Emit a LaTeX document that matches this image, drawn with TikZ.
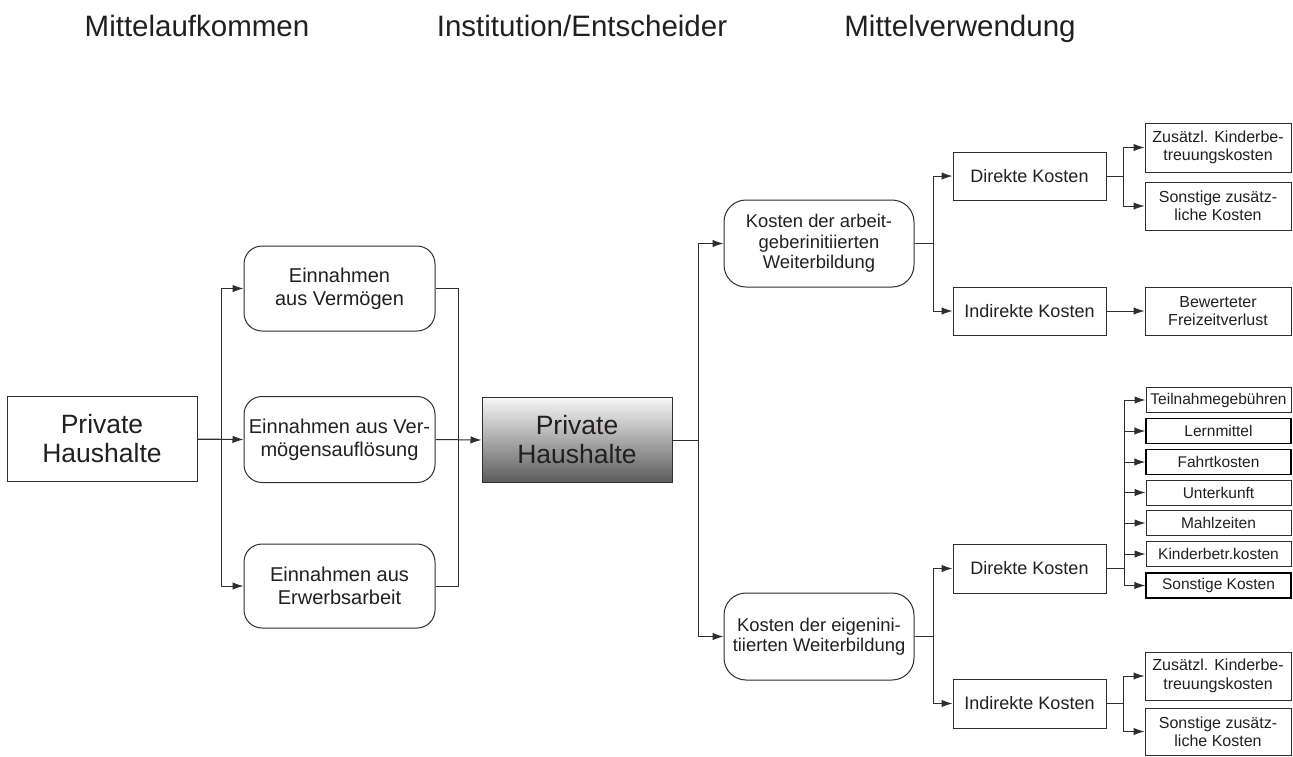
\documentclass[tikz,border=0pt]{standalone}
\usepackage{fontspec}
\setmainfont{Liberation Sans}
\usetikzlibrary{arrows.meta}
\definecolor{txtcol}{HTML}{231F20}
\definecolor{lncol}{HTML}{2E2E2E}
\newcommand\fhead{\fontsize{29.5}{33}\selectfont}
\newcommand\fbig{\fontsize{26.5}{29}\selectfont}
\newcommand\fein{\fontsize{20}{22.7}\selectfont}
\newcommand\fkost{\fontsize{18.4}{20.4}\selectfont}
\newcommand\fdk{\fontsize{18}{20}\selectfont}
\newcommand\fsmall{\fontsize{16}{18.3}\selectfont}
\newcommand\fstack{\fontsize{15.5}{17}\selectfont}
\tikzset{
  box/.style={draw=lncol, line width=1pt, inner sep=0pt, align=center, text=txtcol},
  rbox/.style={box, rounded corners=18pt},
  kbox/.style={box, rounded corners=22pt},
  boldbox/.style={box, draw=black, line width=1.4pt},
  conn/.style={draw=lncol, line width=1pt},
  arr/.style={conn, -{Latex[length=11pt,width=7.5pt]}},
  head/.style={font=\fhead, text=txtcol, anchor=base, inner sep=0pt},
}
\begin{document}
\begin{tikzpicture}[x=1pt,y=-1pt]
\useasboundingbox (0,0) rectangle (1293,756);
% headers
\node[head] (h1) at (197,36) {Mittelaufkommen};
\node[head] (h2) at (582,36) {Institution/Entscheider};
\node[head] (h3) at (960,36) {Mittelverwendung};
% left column
\node[box, minimum width=190pt, minimum height=85pt, font=\fbig] (lhh) at (102,439) {Private\\Haushalte};
\node[rbox, minimum width=191pt, minimum height=85pt, font=\fein] (ein1) at (339.5,288.5) {Einnahmen\\aus Vermögen};
\node[rbox, minimum width=191pt, minimum height=86pt, font=\fein] (ein2) at (339.5,439.5) {Einnahmen aus Ver-\\mögensauflösung};
\node[rbox, minimum width=191pt, minimum height=84pt, font=\fein] (ein3) at (339.5,586) {Einnahmen aus\\Erwerbsarbeit};
% center
\node[box, top color=gray!6, bottom color=black!64, minimum width=190pt, minimum height=85pt, font=\fbig] (chh) at (577,440) {Private\\Haushalte};
% Kosten
\node[kbox, minimum width=190pt, minimum height=87pt, font=\fkost] (k1) at (819,243.5) {Kosten der arbeit-\\geberinitiierten\\Weiterbildung};
\node[kbox, minimum width=190pt, minimum height=87pt, font=\fkost] (k2) at (819,636.5) {Kosten der eigenini-\\tiierten Weiterbildung};
% Direkte / Indirekte
\node[box, minimum width=153pt, minimum height=48pt, font=\fdk] (d1) at (1029.5,176) {Direkte Kosten};
\node[box, minimum width=153pt, minimum height=48pt, font=\fdk] (i1) at (1029.5,311) {Indirekte Kosten};
\node[box, minimum width=153pt, minimum height=49pt, font=\fdk] (d2) at (1029.5,568.5) {Direkte Kosten};
\node[box, minimum width=153pt, minimum height=49pt, font=\fdk] (i2) at (1029.5,703.5) {Indirekte Kosten};
% small boxes
\node[box, minimum width=146pt, minimum height=49pt, font=\fsmall] (z1) at (1218,147.5) {Zusätzl. Kinderbe-\\treuungskosten};
\node[box, minimum width=146pt, minimum height=48pt, font=\fsmall] (s1) at (1218,206) {Sonstige zusätz-\\liche Kosten};
\node[box, minimum width=146pt, minimum height=48pt, font=\fsmall] (b1) at (1218,311) {Bewerteter\\Freizeitverlust};
\node[box, minimum width=146pt, minimum height=48pt, font=\fsmall] (z2) at (1218,676) {Zusätzl. Kinderbe-\\treuungskosten};
\node[box, minimum width=146pt, minimum height=47pt, font=\fsmall] (s2) at (1218,731.5) {Sonstige zusätz-\\liche Kosten};
% stack
\node[box, minimum width=145pt, minimum height=25pt, font=\fstack] (t1) at (1218.5,400) {Teilnahmegebühren};
\node[boldbox, minimum width=145pt, minimum height=25pt, font=\fstack] (t2) at (1218.5,431) {Lernmittel};
\node[boldbox, minimum width=145pt, minimum height=25pt, font=\fstack] (t3) at (1218.5,462) {Fahrtkosten};
\node[box, minimum width=145pt, minimum height=25pt, font=\fstack] (t4) at (1218.5,492.5) {Unterkunft};
\node[box, minimum width=145pt, minimum height=25pt, font=\fstack] (t5) at (1218.5,523) {Mahlzeiten};
\node[box, minimum width=145pt, minimum height=25pt, font=\fstack] (t6) at (1218.5,554) {Kinderbetr.kosten};
\node[boldbox, minimum width=145pt, minimum height=25pt, font=\fstack] (t7) at (1218.5,585.5) {Sonstige Kosten};
% connectors left
\draw[arr] (lhh.east) -- ++(24,0) |- (ein1.west);
\draw[arr] (lhh.east) -- (ein2.west);
\draw[arr] (lhh.east) -- ++(24,0) |- (ein3.west);
\draw[conn] (ein1.east) -- ++(23,0) |- (ein3.east);
\draw[arr] (ein2.east) -- (chh.west);
% center to Kosten
\draw[arr] (chh.east) -- ++(26,0) |- (k1.west);
\draw[arr] (chh.east) -- ++(26,0) |- (k2.west);
% Kosten to Direkte/Indirekte
\draw[arr] (k1.east) -- ++(19,0) |- (d1.west);
\draw[arr] (k1.east) -- ++(19,0) |- (i1.west);
\draw[arr] (k2.east) -- ++(19,0) |- (d2.west);
\draw[arr] (k2.east) -- ++(19,0) |- (i2.west);
% to small boxes
\draw[arr] (d1.east) -- ++(17,0) |- (z1.west);
\draw[arr] (d1.east) -- ++(17,0) |- (s1.west);
\draw[arr] (i1.east) -- (b1.west);
\draw[arr] (i2.east) -- ++(17,0) |- (z2.west);
\draw[arr] (i2.east) -- ++(17,0) |- (s2.west);
\foreach \t in {t1,t2,t3,t4,t5,t6,t7}{
  \draw[arr] (d2.east) -- ++(18,0) |- (\t.west);
}
\end{tikzpicture}
\end{document}
